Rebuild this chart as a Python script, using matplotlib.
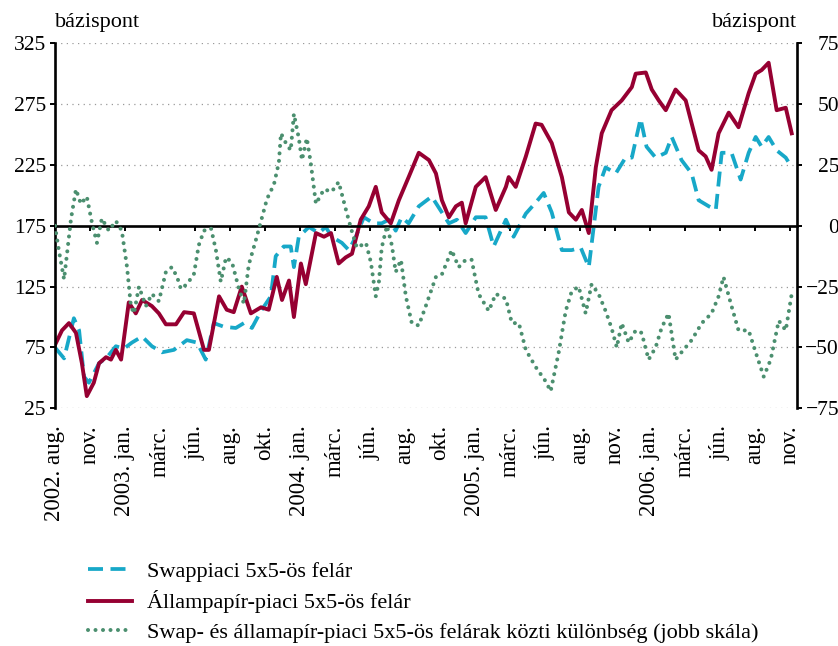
import numpy as np
import matplotlib as mpl
mpl.use('Agg')
import matplotlib.pyplot as plt

# x positions are in tick units (0 = 2002. aug., 21 = 2006. nov.)
tick_labels = ['2002. aug.', 'nov.', '2003. jan.', 'márc.', 'jún.', 'aug.', 'okt.',
               '2004. jan.', 'márc.', 'jún.', 'aug.', 'okt.',
               '2005. jan.', 'márc.', 'jún.', 'aug.', 'nov.',
               '2006. jan.', 'márc.', 'jún.', 'aug.', 'nov.']

# Swappiaci 5x5-ös felár (bal skála)
swap_x = [0.00, 0.26, 0.54, 0.69, 0.83, 0.97, 1.26, 1.49, 1.74, 1.97, 2.20, 2.49, 2.77, 3.06,
          3.40, 3.77, 4.06, 4.31, 4.54, 4.83, 5.17, 5.40, 5.63, 5.89, 6.17, 6.31, 6.54, 6.74,
          6.83, 6.97, 7.26, 7.54, 7.74, 7.91, 8.20, 8.40, 8.60, 8.83, 9.11, 9.34, 9.54, 9.74,
          9.91, 10.11, 10.40, 10.63, 10.77, 11.06, 11.26, 11.49, 11.74, 12.03, 12.31, 12.54,
          12.89, 13.11, 13.46, 13.74, 13.97, 14.20, 14.49, 14.77, 15.03, 15.26, 15.54, 15.74,
          16.03, 16.31, 16.49, 16.74, 16.91, 17.17, 17.46, 17.63, 17.91, 18.20, 18.40, 18.69,
          18.89, 19.06, 19.34, 19.60, 19.83, 20.03, 20.20, 20.40, 20.63, 20.89, 21.06]
swap_v = [75, 66, 99, 89, 51, 46, 62, 67, 76, 74, 79, 84, 76, 71, 73, 81, 79, 65, 95, 92,
          91, 95, 91, 105, 117, 150, 158, 158, 141, 166, 174, 169, 174, 166, 161, 155, 166, 182, 177, 177,
          180, 171, 182, 177, 191, 196, 199, 186, 177, 180, 169, 182, 182, 158, 180, 166, 185, 194, 202, 186,
          155, 155, 157, 141, 207, 223, 218, 231, 231, 263, 240, 231, 235, 248, 229, 218, 196, 191, 188, 235,
          235, 213, 235, 248, 240, 248, 237, 231, 223]

# Állampapír-piaci 5x5-ös felár (bal skála)
gov_x = [0.00, 0.20, 0.40, 0.60, 0.77, 0.91, 1.11, 1.26, 1.46, 1.60, 1.74, 1.89, 2.11, 2.31,
         2.49, 2.77, 2.97, 3.17, 3.46, 3.69, 3.97, 4.26, 4.40, 4.69, 4.91, 5.11, 5.34, 5.60,
         5.89, 6.11, 6.34, 6.49, 6.69, 6.83, 7.03, 7.17, 7.46, 7.69, 7.89, 8.11, 8.31, 8.49,
         8.74, 8.97, 9.17, 9.34, 9.60, 9.83, 10.11, 10.40, 10.69, 10.89, 11.06, 11.26, 11.46,
         11.63, 11.74, 12.03, 12.31, 12.60, 12.89, 12.97, 13.17, 13.46, 13.74, 13.91, 14.20,
         14.49, 14.69, 14.89, 15.06, 15.26, 15.46, 15.63, 15.91, 16.20, 16.49, 16.60, 16.89,
         17.06, 17.26, 17.46, 17.74, 18.03, 18.40, 18.60, 18.77, 18.97, 19.26, 19.54, 19.83,
         20.03, 20.20, 20.40, 20.63, 20.89, 21.06]
gov_v = [77, 89, 95, 87, 62, 35, 46, 62, 67, 65, 73, 65, 112, 103, 114, 109, 103, 94, 94, 104,
         103, 73, 73, 117, 106, 104, 125, 103, 108, 106, 133, 114, 130, 100, 144, 127, 169, 166, 169, 144,
         149, 152, 180, 191, 207, 186, 177, 196, 215, 235, 229, 218, 196, 182, 191, 194, 177, 207, 215, 188,
         207, 215, 207, 232, 259, 258, 243, 215, 186, 180, 188, 169, 223, 251, 270, 278, 289, 300, 301, 287,
         278, 270, 287, 278, 237, 232, 221, 251, 268, 256, 284, 300, 303, 309, 270, 272, 251]

# különbség (jobb skála)
diff_x = [0.00, 0.11, 0.26, 0.46, 0.60, 0.74, 0.91, 1.06, 1.20, 1.34, 1.54, 1.74, 1.91, 2.06,
          2.17, 2.26, 2.40, 2.60, 2.77, 2.97, 3.17, 3.34, 3.49, 3.60, 3.77, 3.97, 4.11, 4.26,
          4.46, 4.60, 4.74, 4.89, 5.06, 5.26, 5.40, 5.54, 5.74, 5.91, 6.06, 6.26, 6.40, 6.46,
          6.60, 6.74, 6.83, 6.97, 7.06, 7.20, 7.31, 7.46, 7.69, 7.91, 8.11, 8.31, 8.46, 8.63,
          8.89, 9.03, 9.17, 9.26, 9.34, 9.49, 9.63, 9.74, 9.89, 10.03, 10.20, 10.40, 10.60,
          10.89, 11.06, 11.34, 11.54, 11.74, 11.91, 12.11, 12.40, 12.60, 12.89, 13.06, 13.26,
          13.46, 13.74, 14.03, 14.17, 14.40, 14.60, 14.77, 14.97, 15.17, 15.34, 15.54, 15.74,
          15.91, 16.06, 16.20, 16.40, 16.60, 16.77, 16.97, 17.17, 17.34, 17.54, 17.74, 17.91,
          18.20, 18.49, 18.77, 18.97, 19.11, 19.34, 19.54, 19.83, 20.03, 20.26, 20.46, 20.69,
          20.89, 21.06]
diff_v = [0, -10, -22, 3, 15, 9, 12, 1, -7, 3, -2, 2, -2, -17, -33, -36, -25, -33, -28, -31,
          -19, -17, -21, -26, -24, -20, -8, -2, -1, -10, -23, -13, -15, -26, -32, -16, -6, 3, 11, 17,
          26, 38, 34, 31, 46, 36, 27, 36, 26, 9, 15, 14, 18, 7, -1, -9, -7, -15, -29, -23,
          -9, 0, -8, -19, -14, -29, -40, -41, -33, -21, -20, -10, -17, -14, -14, -28, -35, -28, -30, -40,
          -40, -51, -58, -64, -68, -52, -35, -27, -25, -36, -24, -28, -35, -42, -50, -40, -48, -43, -44, -55,
          -50, -42, -36, -55, -52, -47, -40, -36, -29, -21, -33, -43, -43, -52, -62, -55, -39, -43, -28]

labels = ['Swappiaci 5x5-ös felár',
          'Állampapír-piaci 5x5-ös felár',
          'Swap- és államapír-piaci 5x5-ös felárak közti különbség (jobb skála)']

left_ticks = [25, 75, 125, 175, 225, 275, 325]
right_ticks = [-75, -50, -25, 0, 25, 50, 75]

c_swap = '#17a8c8'
c_gov = '#960032'
c_diff = '#4b8f6f'


def main():
    plt.rcParams['font.family'] = ['Liberation Serif', 'DejaVu Serif']
    plt.rcParams['font.size'] = 15
    fig = plt.figure(figsize=(8.38, 6.46), dpi=100)
    ax = fig.add_axes([0.0656, 0.368, 0.885, 0.565])
    ax2 = ax.twinx()

    l1, = ax.plot(swap_x, swap_v, color=c_swap, lw=2.7, linestyle=(0, (4.0, 2.0)),
                  solid_joinstyle='round', dash_joinstyle='round')
    l2, = ax.plot(gov_x, gov_v, color=c_gov, lw=2.8, solid_joinstyle='round')
    l3, = ax2.plot(diff_x, diff_v, color=c_diff, lw=2.9, linestyle=(0, (0.01, 1.85)),
                   dash_capstyle='round')

    ax.set_xlim(0, 21.2)
    ax.set_ylim(25, 325)
    ax2.set_ylim(-75, 75)
    ax.set_yticks(left_ticks)
    ax2.set_yticks(right_ticks)

    for y in left_ticks:
        if y != 175:
            ax.axhline(y, color='#9a9a9a', lw=0.9, linestyle=(0, (1, 3.5)), zorder=0)

    # zero line carries the x ticks
    ax.spines['bottom'].set_position(('data', 175))
    ax.spines['bottom'].set_linewidth(1.9)
    ax.spines['top'].set_visible(False)
    ax.spines['right'].set_visible(False)
    ax.spines['left'].set_linewidth(1.9)
    for s in ['top', 'bottom', 'left']:
        ax2.spines[s].set_visible(False)
    ax2.spines['right'].set_linewidth(1.9)

    ax.set_xticks(np.arange(len(tick_labels)))
    ax.set_xticklabels(tick_labels, rotation=90, fontsize=16.5)
    ax.tick_params(axis='x', direction='out', length=3.6, width=1.4, pad=140)
    ax.tick_params(axis='y', direction='out', length=3.6, width=1.4, pad=3, labelsize=15.5)
    ax2.tick_params(axis='y', direction='out', length=3.6, width=1.4, pad=27, labelsize=15.5)
    for lab in ax2.get_yticklabels():
        lab.set_ha('right')

    fig.text(55/838, 1-27/646, 'bázispont', fontsize=16, va='baseline', ha='left')
    fig.text(797/838, 1-27/646, 'bázispont', fontsize=16, va='baseline', ha='right')

    fig.legend([l1, l2, l3], labels, loc='upper left', bbox_to_anchor=(88/838, 1-561/646),
               frameon=False, fontsize=16, handlelength=2.0, handletextpad=0.65,
               labelspacing=0.4, borderpad=0, borderaxespad=0)

    fig.savefig('out.png', dpi=100)
    plt.close()


if __name__ == "__main__":
    main()
